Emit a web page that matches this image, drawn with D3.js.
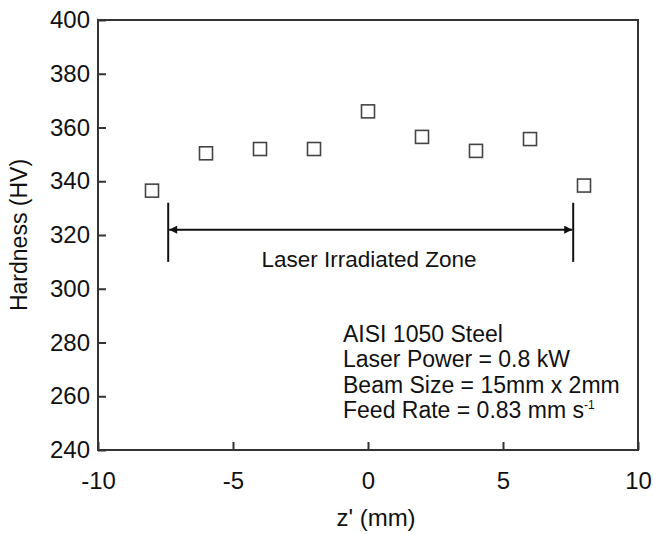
<!DOCTYPE html>
<meta charset="utf-8">
<head>
<script src="https://d3js.org/d3.v7.min.js"></script>
<style>
  body { margin: 0; background: #fff; }
  text { font-family: "Liberation Sans", Arial, sans-serif; fill: #111; }
</style>
</head>
<body>
<svg id="chart" width="653" height="534"></svg>
<script>

// positions along the bar (mm) and the hardness read at each
var zPos = [-8, -6, -4, -2, 0, 2, 4, 6, 8];
var hardness = [336.5, 350.4, 352, 352, 366, 356.5, 351.3, 355.7, 338.4];

var xTicks = [-10, -5, 0, 5, 10];
var yTicks = [240, 260, 280, 300, 320, 340, 360, 380, 400];

// the irradiated zone limits (mm) and level of the arrow (HV)
var zoneEdges = [-7.4, 7.6];
var zoneLevel = 322;
var zoneSpan = [310, 332];

var notes = ["AISI 1050 Steel", "Laser Power = 0.8 kW", "Beam Size = 15mm x 2mm", "Feed Rate = 0.83 mm s"];

function drawChart() {
  var svg = d3.select("#chart");
  var left = 98, right = 638, top = 20, bottom = 450;

  var x = d3.scaleLinear().domain([-10, 10]).range([left, right]);
  var y = d3.scaleLinear().domain([240, 400]).range([bottom, top]);

  var defs = svg.append("defs");
  defs.append("marker")
    .attr("id", "head")
    .attr("viewBox", "0 0 10 10")
    .attr("refX", 10).attr("refY", 5)
    .attr("markerWidth", 5).attr("markerHeight", 4)
    .attr("orient", "auto-start-reverse")
    .append("path")
    .attr("d", "M0,0 L10,5 L0,10 z")
    .attr("fill", "#111");

  // frame
  svg.append("rect")
    .attr("x", left).attr("y", top)
    .attr("width", right - left).attr("height", bottom - top)
    .attr("fill", "none").attr("stroke", "#333").attr("stroke-width", 2);

  // axes with inward ticks
  var yAxis = svg.append("g")
    .attr("transform", "translate(" + left + ",0)")
    .call(d3.axisLeft(y).tickValues(yTicks).tickSizeInner(-8).tickSizeOuter(0).tickPadding(8));
  var xAxis = svg.append("g")
    .attr("transform", "translate(0," + bottom + ")")
    .call(d3.axisBottom(x).tickValues(xTicks).tickSizeInner(-8).tickSizeOuter(0).tickPadding(22)
      .tickFormat(function(d) { return String(d); }));

  [xAxis, yAxis].forEach(function(a) {
    a.select(".domain").remove();
    a.selectAll("line").attr("stroke", "#333").attr("stroke-width", 2);
    a.selectAll("text")
      .style("font-family", "'Liberation Sans', Arial, sans-serif")
      .style("font-size", "24px")
      .attr("fill", "#111");
  });

  // axis titles
  svg.append("text")
    .attr("x", 376).attr("y", 526)
    .attr("text-anchor", "middle")
    .style("font-size", "24px")
    .text("z' (mm)");
  svg.append("text")
    .attr("transform", "translate(27," + ((top + bottom) / 2) + ") rotate(-90)")
    .attr("text-anchor", "middle")
    .style("font-size", "23px")
    .text("Hardness (HV)");

  // data markers
  svg.append("g").selectAll("rect")
    .data(zPos)
    .enter().append("rect")
    .attr("x", function(d) { return x(d) - 6.5; })
    .attr("y", function(d, i) { return y(hardness[i]) - 6.5; })
    .attr("width", 13).attr("height", 13)
    .attr("fill", "none").attr("stroke", "#444").attr("stroke-width", 1.6);

  // zone bracket
  var zg = svg.append("g").attr("stroke", "#111").attr("stroke-width", 2);
  zoneEdges.forEach(function(e) {
    zg.append("line")
      .attr("x1", x(e)).attr("x2", x(e))
      .attr("y1", y(zoneSpan[1])).attr("y2", y(zoneSpan[0]));
  });
  zg.append("line")
    .attr("x1", x(zoneEdges[0]) + 1).attr("x2", x(zoneEdges[1]) - 1)
    .attr("y1", y(zoneLevel)).attr("y2", y(zoneLevel))
    .attr("marker-start", "url(#head)")
    .attr("marker-end", "url(#head)");

  svg.append("text")
    .attr("x", 369).attr("y", 267)
    .attr("text-anchor", "middle")
    .style("font-size", "22.5px")
    .text("Laser Irradiated Zone");

  // notes
  var ng = svg.append("g");
  notes.forEach(function(t, i) {
    var tx = ng.append("text")
      .attr("x", 343).attr("y", 342 + i * 25.3)
      .style("font-size", "23px")
      .text(t);
    if (i === notes.length - 1) {
      tx.append("tspan").attr("dy", -9).style("font-size", "12px").text("-1");
    }
  });
}

drawChart();
</script>
</body>
